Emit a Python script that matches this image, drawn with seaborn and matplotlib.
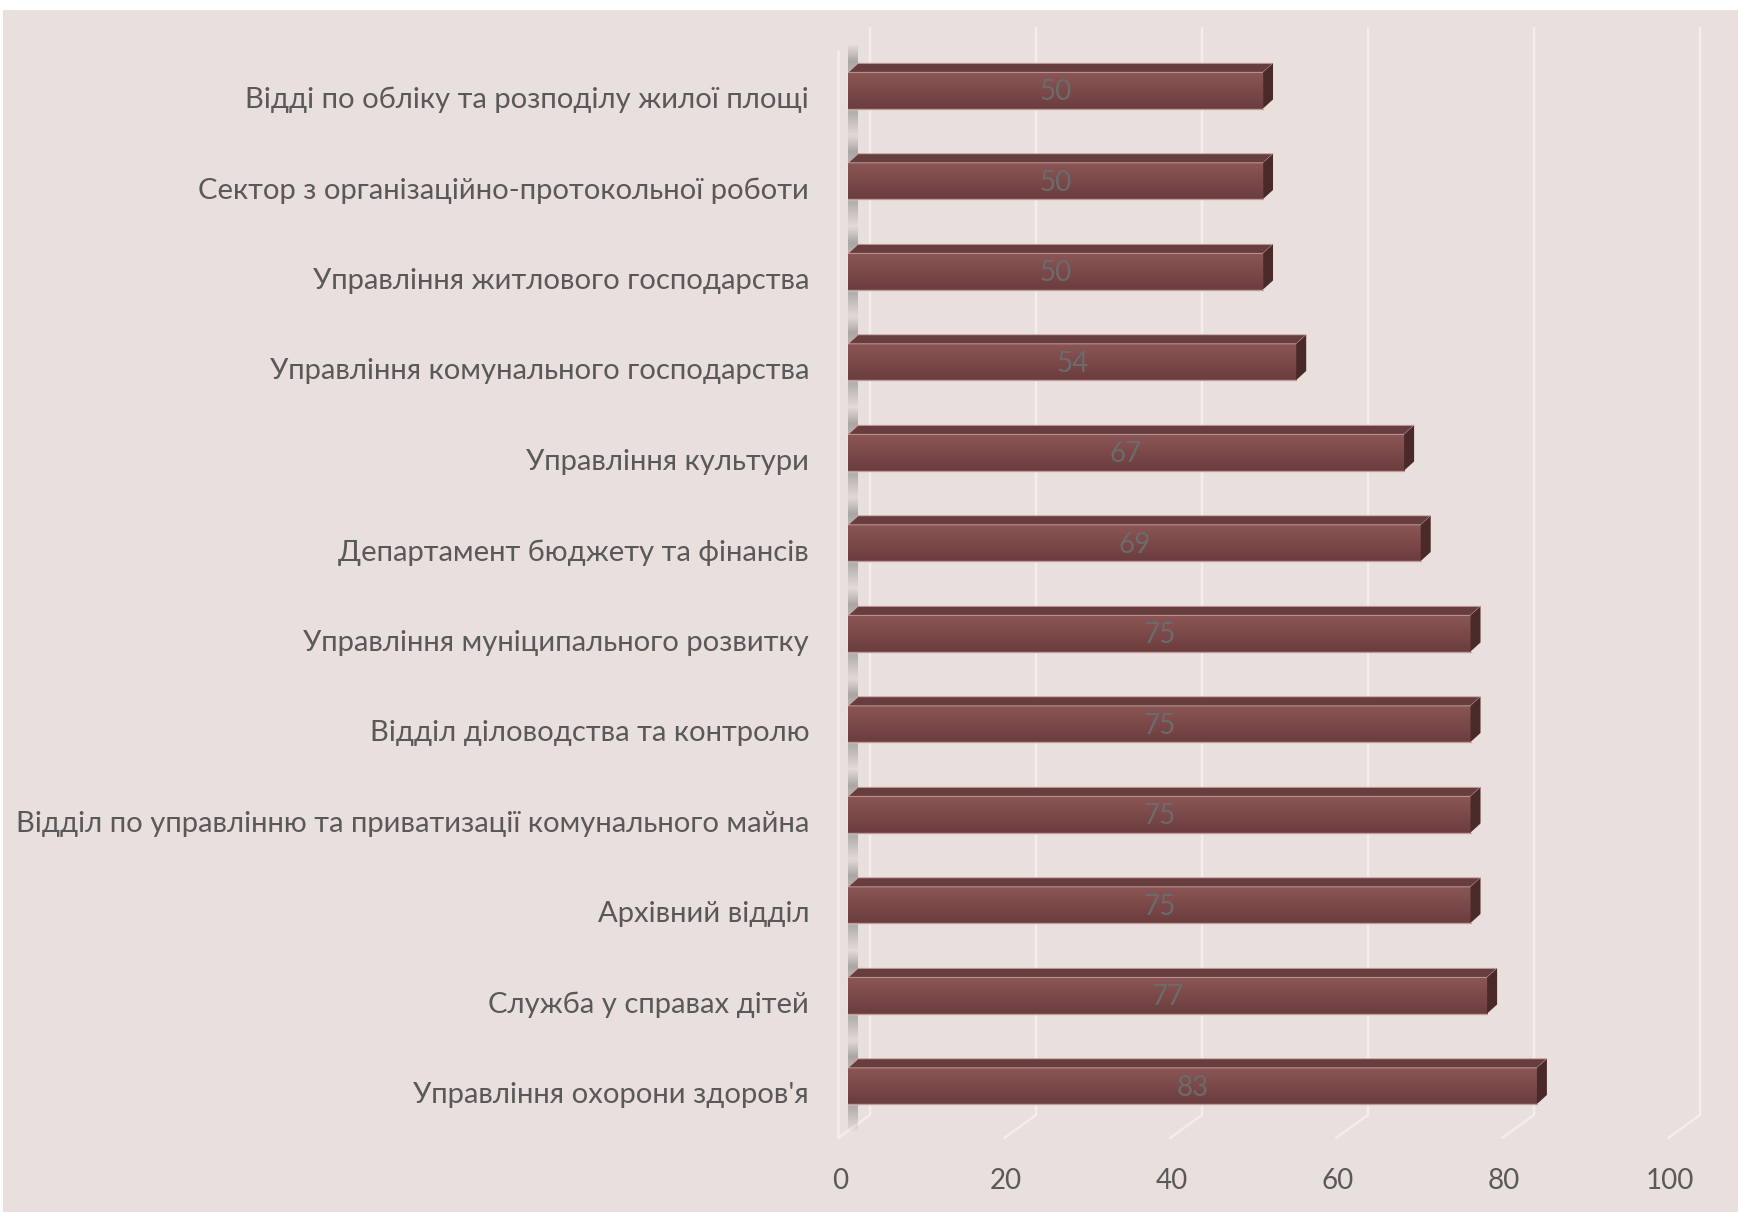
import numpy as np
import pandas as pd
import seaborn as sns
import matplotlib
matplotlib.use('Agg')
from matplotlib import pyplot as plt
from matplotlib.patches import Polygon, Rectangle
from matplotlib.colors import LinearSegmentedColormap
import matplotlib.transforms as mtransforms

departments = [
    "Відді по обліку та розподілу жилої площі",
    "Сектор з організаційно-протокольної роботи",
    "Управління житлового господарства",
    "Управління комунального господарства",
    "Управління культури",
    "Департамент бюджету та фінансів",
    "Управління муніципального розвитку",
    "Відділ діловодства та контролю",
    "Відділ по управлінню та приватизації комунального майна",
    "Архівний відділ",
    "Служба у справах дітей",
    "Управління охорони здоров'я",
]
scores = [50, 50, 50, 54, 67, 69, 75, 75, 75, 75, 77, 83]
x_ticks = [0, 20, 40, 60, 80, 100]

df = pd.DataFrame({'dept': departments, 'score': scores})

sns.set_theme(style='white')
plt.rcParams['font.family'] = ['Lato', 'DejaVu Sans']

fig = plt.figure(figsize=(17.38, 12.12), dpi=100, facecolor='white')
fig.patches.append(Rectangle((3 / 1738, 0), 1, 1 - 10 / 1212, transform=fig.transFigure,
                             facecolor='#E9DFDC', edgecolor='none', zorder=-10))
ax = fig.add_axes([0.4784, 0.0592, 0.5062, 0.9222])
ax.set_facecolor('none')

sns.barplot(data=df, x='score', y='dept', orient='h', color='#7A4848', width=0.4,
            errorbar=None, ax=ax, zorder=3)

ax.set_xlim(-2, 104)
ax.set_ylim(11.6, -0.75)

# 3d depth in data units
ddx, ddy = 1.2, 0.1
back_dx, front_dx = 2.65, -1.2
y_top, y_floor_back, y_floor_front = -0.69, 11.32, 11.575

# grid on the back wall + floor
grid_col = '#F3EEEC'
for xv in x_ticks:
    ax.plot([xv + back_dx, xv + back_dx, xv + front_dx],
            [y_top, y_floor_back, y_floor_front], color=grid_col, lw=1.8, zorder=1)
ax.plot([front_dx, front_dx], [y_top + 0.25, y_floor_front], color=grid_col, lw=1.8, zorder=1)

face_cmap = LinearSegmentedColormap.from_list('face', ['#8B5656', '#7C4949', '#6A3D3D'])
grad = np.linspace(0, 1, 100).reshape(-1, 1)

# left wall shading near each bar
shade = np.zeros((100, 1, 4))
shade[..., :3] = 0.5
prof = np.interp(np.linspace(0, 1, 100), [0, 0.18, 0.3, 0.75, 1.0], [0.05, 0.6, 0.45, 0.5, 0.05])
shade[:, 0, 3] = prof

for i, p in enumerate(ax.patches):
    x0, y0, w, h = p.get_x(), p.get_y(), p.get_width(), p.get_height()
    ax.imshow(shade, extent=(0, ddx, i + 0.5, i - 0.5), aspect='auto', zorder=2,
              interpolation='bilinear')
    ax.imshow(grad, cmap=face_cmap, extent=(x0, x0 + w, y0 + h, y0), aspect='auto',
              zorder=4, interpolation='bilinear')
    ax.add_patch(Polygon([(x0, y0), (x0 + w, y0), (x0 + w + ddx, y0 - ddy), (x0 + ddx, y0 - ddy)],
                         closed=True, facecolor='#683D3D', edgecolor='#C9A9A6', lw=0.6, zorder=4))
    ax.add_patch(Polygon([(x0 + w, y0), (x0 + w, y0 + h), (x0 + w + ddx, y0 + h - ddy),
                          (x0 + w + ddx, y0 - ddy)],
                         closed=True, facecolor='#4A2929', edgecolor='none', zorder=4))
    ax.plot([x0, x0 + w], [y0 + h, y0 + h], color='#BF9C99', lw=1.0, zorder=5)

for i, v in enumerate(scores):
    ax.text(v / 2, i + 0.02, str(v), ha='center', va='center', fontsize=20,
            color='#6B6B6B', zorder=6)

ax.set_xlim(-2, 104)
ax.set_ylim(11.6, -0.75)
ax.set_xticks(x_ticks)
ax.set_xlabel('')
ax.set_ylabel('')
ax.tick_params(axis='x', length=0, pad=20, labelsize=20, labelcolor='#595959')
ax.tick_params(axis='y', length=0, pad=16, labelsize=21.1, labelcolor='#595959')
for s in ax.spines.values():
    s.set_visible(False)

for lbl in ax.get_yticklabels():
    lbl.set_transform(lbl.get_transform() + mtransforms.ScaledTranslation(0, -7 / 100, fig.dpi_scale_trans))
for lbl in ax.get_xticklabels():
    lbl.set_transform(lbl.get_transform() + mtransforms.ScaledTranslation(-8 / 100, 0, fig.dpi_scale_trans))

fig.savefig('out.png', dpi=100, facecolor=fig.get_facecolor())
